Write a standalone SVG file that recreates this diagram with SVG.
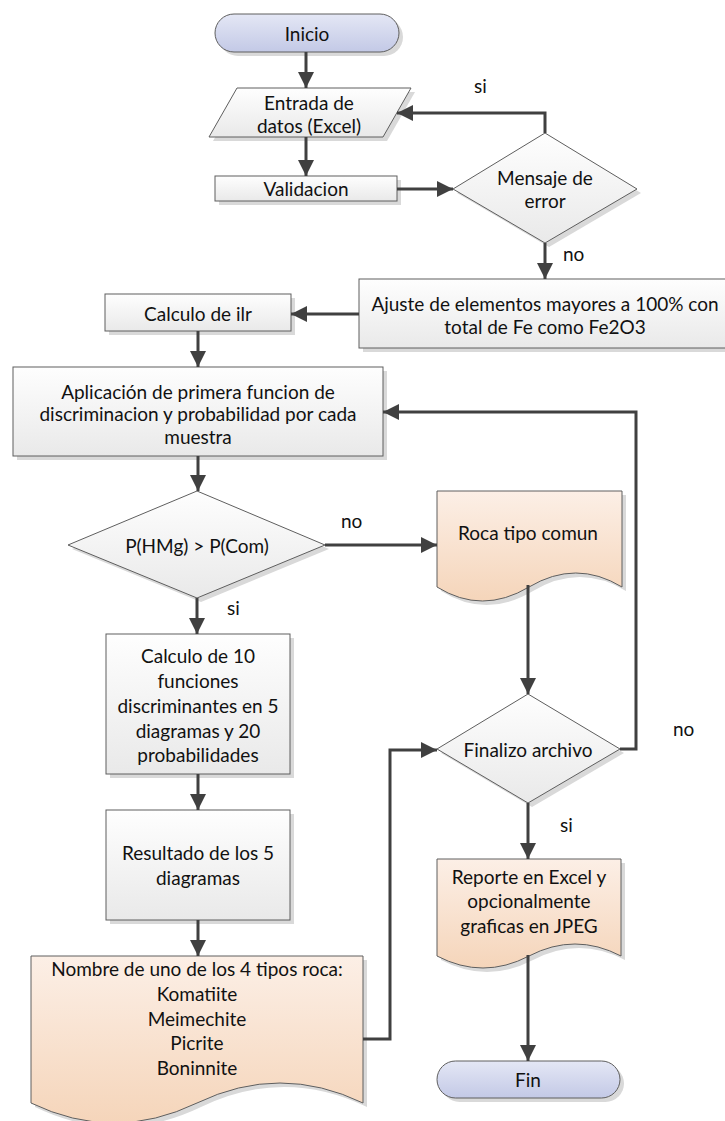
<svg xmlns="http://www.w3.org/2000/svg" width="725" height="1121" viewBox="0 0 725 1121">
<defs>
<linearGradient id="gProc" x1="0" y1="0" x2="0" y2="1"><stop offset="0" stop-color="#fefefe"/><stop offset="1" stop-color="#e9e9e9"/></linearGradient>
<linearGradient id="gDoc" x1="0" y1="0" x2="0" y2="1"><stop offset="0" stop-color="#fcefe6"/><stop offset="1" stop-color="#f5d5ba"/></linearGradient>
<linearGradient id="gTerm" x1="0" y1="0" x2="0" y2="1"><stop offset="0" stop-color="#e4e7f5"/><stop offset="1" stop-color="#c3c9e6"/></linearGradient>
<marker id="arr" markerUnits="userSpaceOnUse" markerWidth="17" markerHeight="16" refX="16" refY="8" orient="auto" viewBox="0 0 17 16"><path d="M0,0 L16,8 L0,16 z" fill="#404040"/></marker>
</defs>
<style>
.proc{fill:url(#gProc);stroke:#5e5e5e;stroke-width:1}
.doc{fill:url(#gDoc);stroke:#5e5e5e;stroke-width:1}
.term{fill:url(#gTerm);stroke:#5e5e5e;stroke-width:1}
.sh{fill:#d9d9d9}
.t{font-family:Lato,"Liberation Sans",sans-serif;font-size:19px;fill:#111;text-anchor:middle;dominant-baseline:central}
.lbl{font-family:Lato,"Liberation Sans",sans-serif;font-size:19px;fill:#111;dominant-baseline:central}
.c{fill:none;stroke:#404040;stroke-width:3;marker-end:url(#arr)}
</style>
<rect width="725" height="1121" fill="#ffffff"/>

<g id="inicio">
<rect class="sh" x="219" y="18" width="184" height="38" rx="19"/>
<rect class="term" x="215" y="14" width="184" height="38" rx="19"/>
<text class="t" x="307" y="33">Inicio</text>
</g>

<g id="entrada">
<polygon class="sh" points="241,92 415,92 387,141 213,141"/>
<polygon class="proc" points="237,88 411,88 383,137 209,137"/>
<text class="t" x="309" y="102">Entrada de</text>
<text class="t" x="309" y="125">datos (Excel)</text>
</g>

<g id="validacion">
<rect class="sh" x="219" y="180" width="182" height="25"/>
<rect class="proc" x="215" y="176" width="182" height="25"/>
<text class="t" x="306" y="188">Validacion</text>
</g>

<g id="mensaje">
<polygon class="sh" points="549,137 641,193 549,247 457,193"/>
<polygon class="proc" points="545,133 637,189 545,243 453,189"/>
<text class="t" x="545" y="177">Mensaje de</text>
<text class="t" x="545" y="200">error</text>
</g>

<g id="ajuste">
<rect class="sh" x="363" y="283" width="372" height="69"/>
<rect class="proc" x="359" y="279" width="372" height="69"/>
<text class="t" x="545" y="303">Ajuste de elementos mayores a 100% con</text>
<text class="t" x="545" y="326">total de Fe como Fe2O3</text>
</g>

<g id="calculo-ilr">
<rect class="sh" x="109" y="298" width="186" height="37"/>
<rect class="proc" x="105" y="294" width="186" height="37"/>
<text class="t" x="198" y="313">Calculo de ilr</text>
</g>

<g id="aplicacion">
<rect class="sh" x="17" y="371" width="370" height="89"/>
<rect class="proc" x="13" y="367" width="370" height="89"/>
<text class="t" x="198" y="391">Aplicación de primera funcion de</text>
<text class="t" x="198" y="413">discriminacion y probabilidad por cada</text>
<text class="t" x="198" y="436">muestra</text>
</g>

<g id="decision-p">
<polygon class="sh" points="201,495 329,549 201,602 72,549"/>
<polygon class="proc" points="197,491 325,545 197,598 68,545"/>
<text class="t" x="197" y="545">P(HMg) &gt; P(Com)</text>
</g>

<g id="roca">
<path class="sh" d="M441,495 H626 V591 Q580,563 533,591 T441,591 Z"/>
<path class="doc" d="M437,491 H622 V587 Q576,559 529,587 T437,587 Z"/>
<text class="t" x="528" y="532">Roca tipo comun</text>
</g>

<g id="calculo-10">
<rect class="sh" x="110" y="638" width="184" height="140"/>
<rect class="proc" x="106" y="634" width="184" height="140"/>
<text class="t" x="198" y="655">Calculo de 10</text>
<text class="t" x="198" y="680">funciones</text>
<text class="t" x="198" y="705">discriminantes en 5</text>
<text class="t" x="198" y="730">diagramas y 20</text>
<text class="t" x="198" y="754">probabilidades</text>
</g>

<g id="resultado">
<rect class="sh" x="110" y="814" width="184" height="110"/>
<rect class="proc" x="106" y="810" width="184" height="110"/>
<text class="t" x="198" y="852">Resultado de los 5</text>
<text class="t" x="198" y="877">diagramas</text>
</g>

<g id="nombre">
<path class="sh" d="M35,960 H367 V1107 Q284,1067 201,1107 T35,1107 Z"/>
<path class="doc" d="M31,956 H363 V1103 Q280,1063 197,1103 T31,1103 Z"/>
<text class="t" x="197" y="968">Nombre de uno de los 4 tipos roca:</text>
<text class="t" x="197" y="993">Komatiite</text>
<text class="t" x="197" y="1018">Meimechite</text>
<text class="t" x="197" y="1042">Picrite</text>
<text class="t" x="197" y="1067">Boninnite</text>
</g>

<g id="finalizo">
<polygon class="sh" points="532,698 624,753 532,807 441,753"/>
<polygon class="proc" points="528,694 620,749 528,803 437,749"/>
<text class="t" x="528" y="749">Finalizo archivo</text>
</g>

<g id="reporte">
<path class="sh" d="M441,863 H625 V960 Q579,936 533,960 T441,960 Z"/>
<path class="doc" d="M437,859 H621 V956 Q575,932 529,956 T437,956 Z"/>
<text class="t" x="529" y="876">Reporte en Excel y</text>
<text class="t" x="529" y="900">opcionalmente</text>
<text class="t" x="529" y="925">graficas en JPEG</text>
</g>

<g id="fin">
<rect class="sh" x="441" y="1065" width="183" height="37" rx="18.5"/>
<rect class="term" x="437" y="1061" width="183" height="37" rx="18.5"/>
<text class="t" x="528" y="1079">Fin</text>
</g>

<g id="connectors">
<path class="c" d="M306,52 V88"/>
<path class="c" d="M306,137 V176"/>
<path class="c" d="M397,189 H453"/>
<path class="c" d="M545,133 V113 H397"/>
<path class="c" d="M545,243 V279"/>
<path class="c" d="M359,314 H291"/>
<path class="c" d="M198,331 V367"/>
<path class="c" d="M198,456 V491"/>
<path class="c" d="M325,545 H437"/>
<path class="c" d="M197,598 V634"/>
<path class="c" d="M198,774 V810"/>
<path class="c" d="M198,920 V956"/>
<path class="c" d="M363,1039 H390 V750 H437"/>
<path class="c" d="M528,585 V694"/>
<path class="c" d="M620,749 H636 V412 H383"/>
<path class="c" d="M528,803 V859"/>
<path class="c" d="M528,955 V1061"/>
</g>

<g id="labels">
<text class="lbl" x="474" y="85">si</text>
<text class="lbl" x="563" y="253">no</text>
<text class="lbl" x="341" y="520">no</text>
<text class="lbl" x="227" y="607">si</text>
<text class="lbl" x="673" y="728">no</text>
<text class="lbl" x="560" y="824">si</text>
</g>
</svg>
